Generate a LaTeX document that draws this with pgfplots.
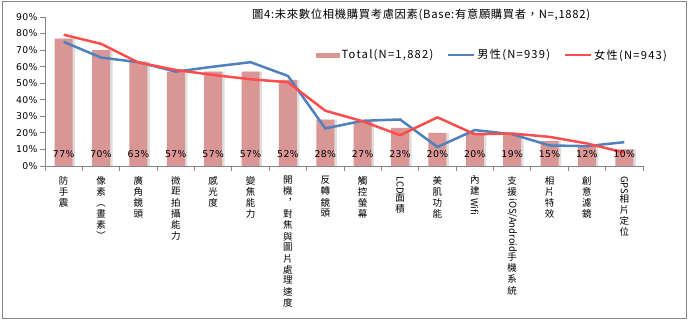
\documentclass[border=0pt]{standalone}
\usepackage{fontspec}
\usepackage{graphicx}
\usepackage{pgfplots}
\usepackage{pgfplotstable}
\pgfplotsset{compat=1.18}
\setmainfont{Noto Sans CJK TC}
\newfontfamily\cjk{Noto Sans CJK TC}
\newfontfamily\cjkw[LetterSpace=6]{Noto Sans CJK TC}
\newfontfamily\cjkl[LetterSpace=11]{Noto Sans CJK TC}
\newfontfamily\num[LetterSpace=4]{DejaVu Sans}
\definecolor{barpink}{RGB}{217,150,148}
\definecolor{mblue}{RGB}{79,129,189}
\definecolor{fred}{RGB}{255,77,77}
\definecolor{axgray}{RGB}{134,134,134}

\pgfplotstableread{
x total male female
0 77 75 79.3
1 70 65.5 73.8
2 63 62.7 62.5
3 57 57 58
4 57 60 55
5 57 62.7 52.4
6 52 54.4 50.6
7 28 22.7 33.4
8 27 27.3 27
9 23 28.1 18.6
10 20 11.5 29.4
11 20 21.7 19.2
12 19 19.2 19.6
13 15 12.4 17.6
14 12 12 13.6
15 10 14.4 8.1
}\data

\newcommand{\rl}[1]{\rotatebox[origin=c]{-90}{#1}}
\newcommand{\vl}[1]{{\renewcommand{\arraystretch}{1}\setlength{\tabcolsep}{0pt}\begin{tabular}{c}#1\end{tabular}}}

\begin{document}
\begin{tikzpicture}[x=1pt,y=1pt]
\path[use as bounding box] (0,0) rectangle (689,321);
\draw[axgray, line width=1pt] (2.5,2.5) rectangle (686,319);
\node[anchor=west, font=\cjkw\fontsize{11.3}{13}\selectfont, inner sep=0pt] at (252,306) {圖4:未來數位相機購買考慮因素(Base:有意願購買者，N=,1882)};
\begin{axis}[
  at={(45pt,155pt)}, anchor=south west,
  width=598pt, height=149pt, scale only axis,
  xmin=-0.5, xmax=15.5, ymin=0, ymax=90,
  axis x line*=bottom, axis y line*=left,
  axis line style={axgray, line width=0.8pt},
  tick align=outside,
  ytick={0,10,...,90},
  yticklabel={\pgfmathprintnumber{\tick}\%},
  yticklabel style={font=\num\fontsize{9.3}{10}\selectfont, xshift=1pt},
  /pgf/number format/assume math mode=true,
  major tick length=5pt,
  minor tick length=5pt,
  y tick style={axgray, line width=0.8pt},
  xtick={0,...,15},
  major x tick style={draw=none},
  minor xtick={-0.5,0.5,...,15.5},
  minor x tick style={axgray, line width=0.8pt},
  xticklabels={
    {\vl{防\\手\\震}},
    {\vl{像\\素\\︵\\畫\\素\\︶}},
    {\vl{廣\\角\\鏡\\頭}},
    {\vl{微\\距\\拍\\攝\\能\\力}},
    {\vl{感\\光\\度}},
    {\vl{變\\焦\\能\\力}},
    {\vl{開\\機\\︐\\對\\焦\\與\\圖\\片\\處\\理\\速\\度}},
    {\vl{反\\轉\\鏡\\頭}},
    {\vl{觸\\控\\螢\\幕}},
    {\vl{\rl{LCD}\\面\\積}},
    {\vl{美\\肌\\功\\能}},
    {\vl{內\\建\\\rl{Wifi}}},
    {\vl{支\\援\\\rl{iOS/Android}\\手\\機\\系\\統}},
    {\vl{相\\片\\特\\效}},
    {\vl{創\\意\\濾\\鏡}},
    {\vl{\rl{GPS}\\相\\片\\定\\位}}
  },
  xticklabel style={anchor=north, inner sep=0pt, yshift=-5pt,
    font=\cjk\fontsize{9.5}{10.7}\selectfont},
  legend style={at={(0.748,0.745)}, anchor=center, draw=none, fill=none,
    legend columns=3, font=\cjkl\fontsize{11.2}{12}\selectfont,
    /tikz/every even column/.append style={column sep=12pt}},
  legend cell align=left,
]
\addplot[ybar, bar width=18pt, bar shift=2.5pt, draw=none, fill=black!13, forget plot] table[x=x,y=total] {\data};
\addplot[ybar, bar width=18pt, bar shift=0pt, draw=none, fill=barpink,
  area legend,
  legend image code/.code={\fill[barpink] (0pt,-2.5pt) rectangle (24pt,2.5pt);}] table[x=x,y=total] {\data};
\addlegendentry{Total(N=1,882)}
\addplot[mblue, line width=2.5pt, no markers,
  legend image code/.code={\draw[mblue, line width=2pt] (0pt,0pt) -- (26pt,0pt);}] table[x=x,y=male] {\data};
\addlegendentry{男性(N=939)}
\addplot[fred, line width=2.5pt, no markers,
  legend image code/.code={\draw[fred, line width=2pt] (0pt,0pt) -- (26pt,0pt);}] table[x=x,y=female] {\data};
\addlegendentry{女性(N=943)}
\addplot[draw=none, no markers, forget plot,
  nodes near coords={\pgfmathprintnumber{\pgfplotspointmeta}\%},
  nodes near coords align={center},
  every node near coord/.append style={font=\num\fontsize{9.3}{10}\selectfont, anchor=center},
  point meta=explicit] table[x=x, y expr=7, meta=total] {\data};
\end{axis}
\end{tikzpicture}
\end{document}
